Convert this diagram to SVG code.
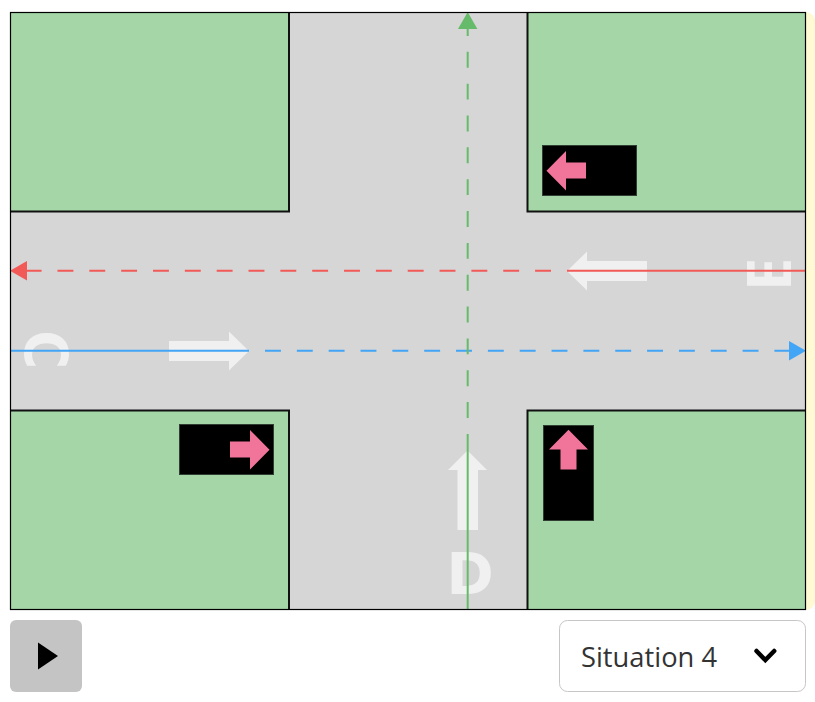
<svg xmlns="http://www.w3.org/2000/svg" width="815" height="702" viewBox="0 0 815 702">
<style>
.block{fill:#a5d6a7}
.edge{fill:none;stroke:#111;stroke-width:2}
.car{fill:#000;stroke:#2f3d32;stroke-width:1}
.pink{fill:#f1759a}
.mark{fill:#f0f0f0}
.letter{fill:#f0f0f0;font-family:"DejaVu Sans",sans-serif;font-weight:700;font-size:57px}
.ln{fill:none;stroke-width:2}
.dash{stroke-dasharray:15.92 15.92}
.red{stroke:#f25a58}.blue{stroke:#42a5f5}.green{stroke:#66bb6a}
</style>
<rect id="backdrop" x="700" y="12" width="115" height="598" rx="9" fill="#fff9d4"/>
<g id="road">
<rect x="10.500" y="12.500" width="795" height="597" fill="#d6d6d6"/>
</g>
<g id="block-top-left"><rect class="block" x="10" y="12" width="279" height="199.500"/><path class="edge" d="M10 211.500H289V12"/></g>
<g id="block-top-right"><rect class="block" x="527.500" y="12" width="278" height="199.500"/><path class="edge" d="M806 211.500H527.500V12"/></g>
<g id="block-bottom-left"><rect class="block" x="10" y="410.500" width="279" height="199"/><path class="edge" d="M10 410.500H289V610"/></g>
<g id="block-bottom-right"><rect class="block" x="527.500" y="410.500" width="278" height="199"/><path class="edge" d="M806 410.500H527.500V610"/></g>
<g id="road-marks">
<polygon class="mark" points="169,341 229,341 229,331.500 249,351 229,370.500 229,361 169,361"/>
<polygon class="mark" points="647,261 587,261 587,251.500 567,271 587,290.500 587,281 647,281"/>
<polygon class="mark" points="457.500,530 457.500,470 448,470 467.500,450.500 487,470 478,470 478,530"/>
<text class="letter" style="font-size:59px" transform="translate(24.800,330.400) rotate(90) scale(.89,1)">C</text>
<text class="letter" x="446.600" y="594">D</text>
<text class="letter" style="font-family:'Open Sans',sans-serif;font-size:60px" text-anchor="middle" transform="translate(790.700,274.500) rotate(-90)">E</text>
</g>
<g id="connectors">
<line class="ln red" x1="806" y1="270.700" x2="567" y2="270.700"/>
<line class="ln red dash" x1="551" y1="270.700" x2="27" y2="270.700"/>
<polygon fill="#f25a58" points="10,270.700 27,261 27,280.400"/>
<line class="ln blue" x1="10" y1="350.700" x2="249" y2="350.700"/>
<line class="ln blue dash" x1="265" y1="350.700" x2="790" y2="350.700"/>
<polygon fill="#42a5f5" points="806,350.700 789,341 789,360.400"/>
<line class="ln green" x1="467.700" y1="610" x2="467.700" y2="434"/>
<line class="ln green dash" x1="467.700" y1="418" x2="467.700" y2="29"/>
<polygon fill="#66bb6a" points="467.700,12 458,29 477.400,29"/>
</g>
<rect x="10.500" y="12.500" width="795" height="597" fill="none" stroke="#000" stroke-width="1.200"/>
<g id="car-left">
<rect class="car" x="179.500" y="424.500" width="94" height="50"/>
<polygon class="pink" points="230,441.500 250,441.500 250,430 269.500,449.700 250,469.500 250,457.500 230,457.500"/>
</g>
<g id="car-top">
<rect class="car" x="542.500" y="145.500" width="94" height="50"/>
<polygon class="pink" points="586,162.500 566,162.500 566,151 546.500,170.700 566,190.500 566,178.500 586,178.500"/>
</g>
<g id="car-bottom">
<rect class="car" x="543.500" y="425.500" width="50" height="95"/>
<polygon class="pink" points="560.500,469.500 560.500,449.500 549,449.500 568.500,429.700 588,449.500 576.500,449.500 576.500,469.500"/>
</g>
<g id="play-button">
<rect x="10" y="620" width="72" height="72" rx="6" fill="#c4c4c4"/>
<polygon points="38,642.500 58,656 38,669.500" fill="#000"/>
</g>
<g id="situation-select">
<rect x="559.500" y="620.500" width="246" height="71" rx="8" fill="#fff" stroke="#c6c6c6" stroke-width="1"/>
<text x="581" y="667" font-family="'Open Sans',sans-serif" font-size="27" fill="#333" textLength="136" lengthAdjust="spacingAndGlyphs">Situation 4</text>
<path d="M756.500 651 L765.300 660 L774.200 651" fill="none" stroke="#000" stroke-width="4.500" stroke-linecap="round" stroke-linejoin="miter"/>
</g>
</svg>
